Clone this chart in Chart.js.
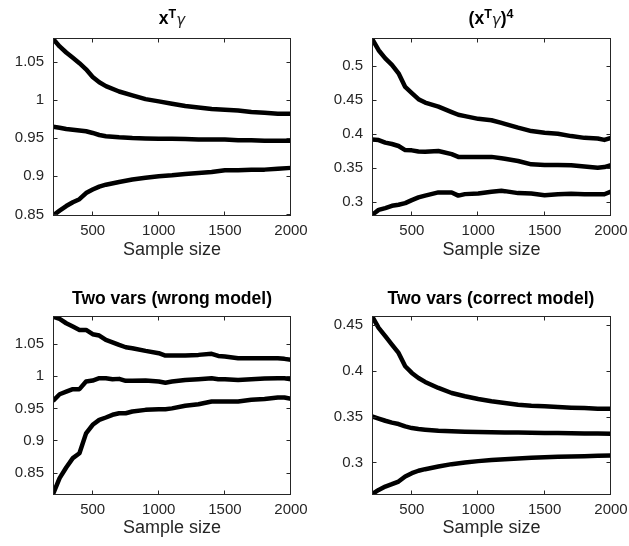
<!DOCTYPE html>
<html><head><meta charset="utf-8">
<script src="https://cdn.jsdelivr.net/npm/chart.js@4.4.0/dist/chart.umd.min.js"></script>
<style>
html,body{margin:0;padding:0;background:#fff;width:629px;height:546px;overflow:hidden;position:relative;}
canvas{position:absolute;}
.title{position:absolute;font-family:"Liberation Sans",Arial,sans-serif;font-weight:bold;font-size:17.5px;line-height:17px;white-space:nowrap;color:#000;transform:translateX(-50%);}
.sup{position:relative;top:-0.45em;font-size:12.5px;}
.g{font-weight:normal;font-family:"DejaVu Sans",sans-serif;font-size:15px;color:#222;font-style:italic;position:relative;top:1px;}
</style></head>
<body>
<canvas id="c1" width="314" height="273" style="left:0;top:0"></canvas>
<canvas id="c2" width="340" height="273" style="left:314px;top:0"></canvas>
<canvas id="c3" width="314" height="273" style="left:0;top:273px"></canvas>
<canvas id="c4" width="340" height="273" style="left:314px;top:273px"></canvas>
<div class="title" style="left:172px;top:10px">x<span class="sup">T</span><span class="g">γ</span></div>
<div class="title" style="left:491px;top:10px">(x<span class="sup">T</span><span class="g">γ</span>)<span class="sup">4</span></div>
<div class="title" style="left:172px;top:290px">Two vars (wrong model)</div>
<div class="title" style="left:491px;top:290px">Two vars (correct model)</div>
<script>
// ---------- data ----------
const xTicks = [500, 1000, 1500, 2000];

// Panel 1: x^T gamma
const x1 = [200,250,300,350,400,450,500,550,600,700,800,900,1000,1100,1200,1300,1400,1500,1600,1700,1800,1900,2000];
const upper1 = [1.080,1.070,1.062,1.055,1.048,1.040,1.030,1.023,1.018,1.011,1.006,1.001,0.998,0.995,0.992,0.990,0.988,0.987,0.986,0.984,0.983,0.982,0.982];
const mid1 = [0.965,0.9635,0.962,0.961,0.960,0.959,0.9567,0.954,0.9525,0.951,0.950,0.9496,0.949,0.949,0.9487,0.948,0.948,0.948,0.947,0.947,0.9465,0.9465,0.9465];
const low1 = [0.8487,0.855,0.861,0.866,0.870,0.878,0.8826,0.8865,0.889,0.8926,0.8957,0.898,0.900,0.9013,0.903,0.9043,0.9057,0.908,0.908,0.9087,0.9087,0.910,0.911];
const yTicks1 = [0.85, 0.9, 0.95, 1, 1.05];

// Panel 2: (x^T gamma)^4
const x2 = [200,250,300,350,400,450,500,550,600,700,800,850,900,1000,1100,1175,1200,1300,1400,1500,1600,1700,1800,1900,1950,2000];
const upper2 = [0.540,0.523,0.511,0.5015,0.489,0.469,0.460,0.451,0.446,0.440,0.432,0.428,0.426,0.422,0.420,0.416,0.4146,0.409,0.404,0.4015,0.400,0.3966,0.394,0.393,0.391,0.394];
const mid2 = [0.3917,0.3907,0.387,0.385,0.382,0.376,0.3756,0.374,0.3737,0.3746,0.370,0.366,0.366,0.366,0.366,0.364,0.3634,0.360,0.355,0.354,0.354,0.3537,0.3517,0.350,0.351,0.354];
const low2 = [0.2805,0.288,0.2907,0.294,0.2956,0.298,0.3024,0.3063,0.309,0.3137,0.3137,0.309,0.3112,0.312,0.3146,0.316,0.3156,0.3127,0.312,0.3097,0.311,0.3117,0.311,0.311,0.311,0.315];
const yTicks2 = [0.3, 0.35, 0.4, 0.45, 0.5];

// Panel 3: two vars (wrong model)
const x3 = [200,250,300,350,400,450,500,550,600,650,700,750,800,900,1000,1050,1100,1200,1300,1400,1450,1500,1600,1700,1800,1900,1950,2000];
const upper3 = [1.093,1.0895,1.0827,1.0775,1.0723,1.0723,1.0656,1.0635,1.0567,1.053,1.049,1.0453,1.0438,1.0396,1.036,1.0323,1.0323,1.0323,1.0334,1.035,1.0318,1.0308,1.0282,1.0282,1.0282,1.0282,1.0272,1.0256];
const mid3 = [0.9617,0.972,0.976,0.980,0.980,0.9918,0.9934,0.997,0.997,0.9955,0.996,0.9929,0.9929,0.9934,0.9918,0.990,0.9918,0.9944,0.9955,0.997,0.9955,0.9955,0.9944,0.9955,0.9965,0.997,0.997,0.9955];
const low3 = [0.8164,0.8413,0.8579,0.8724,0.880,0.911,0.9244,0.9321,0.9358,0.940,0.9425,0.9425,0.9451,0.9477,0.9488,0.9488,0.950,0.954,0.9565,0.9607,0.9607,0.9607,0.9607,0.9633,0.9648,0.967,0.967,0.9648];
const yTicks3 = [0.85, 0.9, 0.95, 1, 1.05];

// Panel 4: two vars (correct model)
const x4 = [200,250,300,350,400,450,500,550,600,700,800,900,1000,1100,1200,1300,1400,1500,1600,1700,1800,1900,2000];
const upper4 = [0.4599,0.447,0.438,0.4288,0.4197,0.4051,0.3978,0.3923,0.388,0.3814,0.3759,0.3723,0.3693,0.3668,0.365,0.3631,0.362,0.3613,0.3606,0.3599,0.3595,0.3588,0.3588];
const mid4 = [0.3504,0.348,0.3456,0.3435,0.342,0.3394,0.3376,0.3365,0.3358,0.3347,0.334,0.3336,0.3332,0.333,0.3328,0.3327,0.3325,0.3323,0.3321,0.332,0.3318,0.3316,0.3314];
const low4 = [0.2653,0.270,0.2737,0.2763,0.2792,0.2847,0.2883,0.291,0.2927,0.2956,0.2982,0.300,0.3015,0.3026,0.3036,0.3044,0.3051,0.3058,0.3062,0.3066,0.3069,0.3073,0.3077];
const yTicks4 = [0.3, 0.35, 0.4, 0.45];

// ---------- drawing ----------
const FONT = '"Liberation Sans", Arial, Helvetica, sans-serif';

const boxPlugin = {
  id: 'matlabBox',
  afterDatasetsDraw(chart) {
    const {ctx, chartArea: a, scales: {x, y}} = chart;
    ctx.save();
    ctx.strokeStyle = '#262626';
    ctx.lineWidth = 1;
    const L = 4;
    const l = Math.round(a.left) + 0.5, r = Math.round(a.right) - 0.5;
    const t = Math.round(a.top) + 0.5, b = Math.round(a.bottom) - 0.5;
    ctx.strokeRect(l, t, r - l, b - t);
    ctx.beginPath();
    x.ticks.forEach(tk => {
      const px = Math.round(x.getPixelForValue(tk.value)) - 0.5;
      ctx.moveTo(px, b); ctx.lineTo(px, b - L);
      ctx.moveTo(px, t); ctx.lineTo(px, t + L);
    });
    y.ticks.forEach(tk => {
      const py = Math.round(y.getPixelForValue(tk.value)) + 0.5;
      ctx.moveTo(l, py); ctx.lineTo(l + L, py);
      ctx.moveTo(r, py); ctx.lineTo(r - L, py);
    });
    ctx.stroke();
    ctx.restore();
  }
};

function pts(xs, ys) { return xs.map((v, i) => ({x: v, y: ys[i]})); }

function panel(id, xs, series, ymin, ymax, yTicks, area, labelPad) {
  const cv = document.getElementById(id);
  const W = cv.width, H = cv.height;
  new Chart(cv, {
    type: 'line',
    data: {
      datasets: series.map(s => ({
        data: pts(xs, s),
        borderColor: '#000',
        borderWidth: 4.5,
        pointRadius: 0,
        tension: 0,
        borderJoinStyle: 'round',
        fill: false
      }))
    },
    options: {
      responsive: false,
      animation: false,
      devicePixelRatio: 1,
      layout: {padding: {left: 0, top: area.top, right: W - area.right, bottom: 0}},
      plugins: {legend: {display: false}, tooltip: {enabled: false}, title: {display: false}},
      scales: {
        x: {
          type: 'linear', min: 200, max: 2000,
          grid: {display: false, drawTicks: false},
          border: {display: false},
          afterBuildTicks: sc => { sc.ticks = xTicks.map(v => ({value: v})); },
          afterFit: sc => { sc.height = H - area.bottom; },
          ticks: {autoSkip: false, maxRotation: 0, padding: 6, color: '#262626',
                  font: {family: FONT, size: 15}, callback: v => String(v)},
          title: {display: true, text: 'Sample size', color: '#262626',
                  font: {family: FONT, size: 18}, padding: {top: 0, bottom: labelPad}}
        },
        y: {
          type: 'linear', min: ymin, max: ymax,
          grid: {display: false, drawTicks: false},
          border: {display: false},
          afterBuildTicks: sc => { sc.ticks = yTicks.map(v => ({value: v})); },
          afterFit: sc => { sc.width = area.left; },
          ticks: {autoSkip: false, padding: 9, color: '#262626',
                  font: {family: FONT, size: 15}, callback: v => String(v)}
        }
      }
    },
    plugins: [boxPlugin]
  });
}

panel('c1', x1, [upper1, mid1, low1], 0.848, 1.081, yTicks1, {left: 53, top: 38, right: 291, bottom: 216}, 12);
panel('c2', x2, [upper2, mid2, low2], 0.279, 0.541, yTicks2, {left: 58, top: 38, right: 297, bottom: 216}, 12);
panel('c3', x3, [upper3, mid3, low3], 0.815, 1.094, yTicks3, {left: 53, top: 43, right: 291, bottom: 222}, 7);
panel('c4', x4, [upper4, mid4, low4], 0.2645, 0.46, yTicks4, {left: 58, top: 43, right: 297, bottom: 222}, 7);
</script>
</body></html>
